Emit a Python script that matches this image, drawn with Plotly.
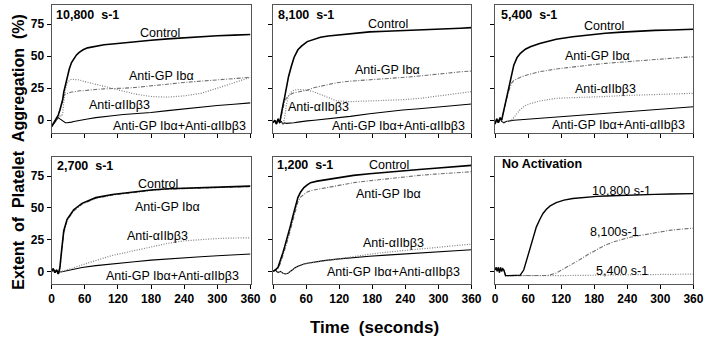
import plotly.graph_objects as go
from plotly.subplots import make_subplots

FONT = "Liberation Sans, Arial, sans-serif"
NB = "\u00a0"

# ---------------- data ----------------
# Panel 1: 10,800 s-1
t1 = [0, 3, 6, 9, 12, 15, 18, 20, 22, 25, 28, 32, 36, 40, 45, 50, 57, 65, 80, 95,
      110, 130, 150, 180, 210, 240, 270, 300, 330, 360]
ctrl1 = [-5, -3, -1, 1, 4, 8, 12, 16, 22, 28, 34, 40, 45, 48, 51, 53, 55, 56.5, 58, 59,
         59.5, 60.5, 61.5, 62.5, 63.5, 64.5, 65.2, 66, 66.5, 67]
gp1 = [-5, -3, -1, 1, 4, 8, 12, 16, 19, 20.5, 21, 21.5, 22, 22, 22.5, 23, 23, 23.5, 24, 24.5,
       24.5, 25, 25.5, 27, 28, 29.5, 30.5, 31.5, 32.5, 33.5]
ab1 = [-5, -3, -1, 1, 3, 4, 3, 5, 14, 24, 29, 31, 32, 32, 32, 31.5, 30.5, 29.5, 28, 26.5,
       25, 23, 20.5, 18.5, 18, 19, 21, 25, 29, 33.5]
both1 = [-5, -3, -1, 1, 2, 1, 0, -1, -1.5, -2, -2, -2, -1.5, -1, -0.5, 0, 0.5, 1, 2, 3,
         3.5, 4.5, 5, 6, 7.5, 9, 10, 11.5, 12.5, 13.5]

# Panel 2: 8,100 s-1
t2 = [0, 3, 6, 9, 12, 15, 18, 21, 24, 28, 33, 38, 45, 52, 62, 75, 86, 100, 116, 140,
      175, 205, 235, 265, 294, 324, 340, 360]
ctrl2 = [-2, 0, -3, 1, -2, 6, 12, 18, 26, 34, 42, 49, 55, 58, 61.4, 63.5, 64.8, 65.8, 66.6, 67.8,
         69, 69.5, 70, 70.2, 70.5, 71, 71.8, 72.3]
gp2 = [-2, 0, -3, 1, -2, 4, 10, 15, 17, 19, 20.5, 21.5, 22, 22.5, 23.5, 25.5, 26.5, 28, 29.3, 30.5,
       31.4, 32.3, 33.4, 34.5, 36, 37, 37.8, 38.4]
ab2 = [-2, 0, -3, 1, -2, -1, -3, 2, 12, 19, 22, 23.5, 24, 23.8, 23.5, 22, 20, 17.5, 15, 14.5,
       15, 15.5, 16, 17, 18.5, 20, 21, 22.3]
both2 = [-2, 0, -3, 1, -2, -1, -3, -2, -2.5, -2.5, -2, -2, -1.5, -1, -0.5, 0, 0.5, 1, 1.5, 3,
         5, 6.6, 8, 9, 10, 11.2, 12, 12.7]

# Panel 3: 5,400 s-1
t3 = [0, 3, 6, 9, 12, 16, 20, 25, 30, 34, 40, 46, 55, 64, 81, 111, 141, 170, 200, 230,
      260, 290, 319, 340, 360]
ctrl3 = [-3, 1, -2, 2, 0, 8, 15, 23.6, 34, 43, 49, 52.3, 55.5, 57.4, 60, 63.2, 65.2, 66.6, 67.9, 68.8,
         69.7, 70.2, 70.5, 70.8, 71]
gp3 = [-3, 1, -2, 2, 0, 8, 15, 23, 29, 31, 32.5, 33.5, 35, 36, 37.9, 40, 41.8, 43, 44.4, 45.5,
       46.5, 47.3, 48.2, 49, 49.6]
ab3 = [-3, 1, -2, 2, -1, -2, -1, -1, 0, 2, 5.4, 8.5, 11.5, 13, 15, 17.1, 17.6, 17.9, 18.5, 19.2,
       19.7, 20.2, 20.5, 20.8, 21]
both3 = [-3, 1, -2, 2, -1, -2, -1, -0.5, -0.3, 0, 0.2, 0.4, 0.8, 1, 1.4, 2.3, 3.2, 4.2, 5.4, 6.4,
         7.4, 8.3, 9.2, 9.9, 10.5]

# Panel 4: 2,700 s-1
t4 = [0, 3, 6, 9, 12, 15, 17, 19, 22, 28, 40, 55, 80, 110, 150, 180, 210, 240, 270, 300, 330, 360]
ctrl4 = [0, 2, -1, 1, -2, 3, 12, 20, 32, 41, 48.5, 53.5, 58, 60.5, 62.8, 64, 65, 65.5, 65.9, 66.3, 66.7, 67.1]
gp4 = [0, 2, -1, 1, -2, 2, 10, 18, 30, 40, 47.5, 52.8, 57.5, 60, 62.3, 63.6, 64.6, 65.1, 65.5, 65.9, 66.3, 66.7]
ab4 = [0, 2, -1, 1, -2, 0, -0.5, 0, 0.5, 1.2, 3, 5, 8.5, 12.5, 16.5, 19.5, 22, 24, 25.2, 25.8, 26.2, 26.4]
both4 = [0, 2, -1, 1, -2, 0, -0.5, -0.3, 0, 0.5, 1.5, 3, 4.5, 6, 7.5, 8.8, 9.8, 10.7, 11.5, 12.2, 12.9, 13.6]

# Panel 5: 1,200 s-1
t5 = [0, 4, 9, 13, 18, 22, 27, 31, 36, 40, 45, 50, 56, 62, 68, 80, 92, 120, 146, 175,
      205, 235, 265, 294, 324, 360]
ctrl5 = [0, 1, 3.1, 8, 14.9, 21, 28, 35, 43.6, 51, 58, 62.5, 65.9, 68, 69.8, 71, 71.8, 73.8, 75.5, 76.8,
         78.1, 79.2, 80.2, 81.2, 82.3, 83.4]
gp5 = [0, 1, 2.5, 6, 12, 18, 25.5, 32, 40, 48, 54.5, 58.5, 60.6, 62.5, 63.5, 64.5, 65.1, 67.5, 69.8, 71.3,
       72.9, 74.2, 75.5, 76.5, 77.6, 78.4]
ab5 = [0, 1, -1, 0, -1.5, -2, -1.5, 0, 1.5, 2.8, 4, 5, 5.6, 6.2, 6.6, 7.3, 8.2, 9.8, 11.5, 13.4,
       15, 16.3, 17.6, 18.8, 20, 21.4]
both5 = [0, 1, -1, 0, -1.5, -2.1, -1.5, 0, 1.5, 2.8, 4, 5, 5.8, 6.4, 6.9, 7.6, 8.4, 9.8, 10.9, 11.8,
         12.7, 13.6, 14.5, 15.4, 16.2, 17]

# Panel 6: No Activation
t6 = [0, 2, 4, 6, 8, 10, 12, 14, 16, 19, 25, 35, 45.7, 52, 57.6, 63, 69.5, 75, 81.4, 87,
      93.2, 100, 111, 125, 141, 155, 170, 185, 200, 215, 230, 245, 260, 290, 319, 340, 360]
na10800 = [1, 3, 0, 3, -1, 3, 0, 2, 1, -3.4, -3.4, -3.4, -3, 1, 9.6, 18, 28, 35, 41, 45.5,
           48.9, 51.5, 54.1, 56, 57.3, 58, 58.6, 59, 59.3, 59.6, 59.9, 60.1, 60.3, 60.6, 60.9, 61, 61.2]
na8100 = [1, 3, 0, 3, -1, 3, 0, 2, 1, -3.4, -3.4, -3.4, -3.4, -3.4, -3.4, -3.4, -3.4, -3.4, -3.4, -3.4,
          -3.3, -2.8, -1.3, 2, 5.7, 9.5, 13.6, 17.3, 20.6, 23.2, 25.3, 26.8, 28, 30.5, 32.4, 33.3, 34]
na5400 = [1, 3, 0, 3, -1, 3, 0, 2, 1, -3.4, -3.4, -3.5, -3.5, -3.5, -3.5, -3.5, -3.5, -3.5, -3.5, -3.5,
          -3.5, -3.5, -3.4, -3.4, -3.3, -3.3, -3.2, -3.1, -3, -2.9, -2.8, -2.8, -2.7, -2.6, -2.4, -2.3, -2.2]

panel_titles = ["10,800" + NB + NB + "s-1", "8,100" + NB + NB + "s-1", "5,400" + NB + NB + "s-1",
                "2,700" + NB + NB + "s-1", "1,200" + NB + NB + "s-1", "No Activation"]
series_names = ["Control", "Anti-GP Ibα", "Anti-αIIbβ3", "Anti-GP Ibα+Anti-αIIbβ3"]
na_names = ["10,800 s-1", "8,100s-1", "5,400 s-1"]

x_ticks = [0, 60, 120, 180, 240, 300, 360]
y_ticks = [0, 25, 50, 75]

# ---------------- styles ----------------
STY = {
    "ctrl": dict(color="black", width=1.6, dash="solid"),
    "gp": dict(color="#707070", width=1.1, dash="4px,1.5px,1px,1.5px"),
    "ab": dict(color="#808080", width=1.2, dash="1px,1.5px"),
    "both": dict(color="black", width=1.1, dash="solid"),
    "na1": dict(color="black", width=1.4, dash="solid"),
}

fig = make_subplots(rows=2, cols=3)

panel_series = [
    (t1, [ctrl1, gp1, ab1, both1]),
    (t2, [ctrl2, gp2, ab2, both2]),
    (t3, [ctrl3, gp3, ab3, both3]),
    (t4, [ctrl4, gp4, ab4, both4]),
    (t5, [ctrl5, gp5, ab5, both5]),
]
order = ["both", "ab", "gp", "ctrl"]
for i, (t, ys) in enumerate(panel_series):
    r, c = i // 3 + 1, i % 3 + 1
    keyed = dict(zip(["ctrl", "gp", "ab", "both"], ys))
    for k in order:
        fig.add_trace(go.Scatter(x=t, y=keyed[k], mode="lines", line=STY[k],
                                 showlegend=False, hoverinfo="skip"), row=r, col=c)
for k, y in [("ab", na5400), ("gp", na8100), ("na1", na10800)]:
    fig.add_trace(go.Scatter(x=t6, y=y, mode="lines", line=STY[k],
                             showlegend=False, hoverinfo="skip"), row=2, col=3)

# ---------------- layout ----------------
xdom = [[49.5 / 728, 252 / 728], [275 / 728, 477 / 728], [501 / 728, 703 / 728]]
ydom = [[1 - 133 / 340, 1 - 5 / 340], [1 - 284 / 340, 1 - 157 / 340]]
tickfont = dict(family=FONT, size=12, color="black", weight="bold")
for i in range(6):
    r, c = i // 3, i % 3
    sfx = "" if i == 0 else str(i + 1)
    fig.layout["xaxis" + sfx].update(
        domain=xdom[c], range=[0, 360], tickvals=x_ticks, ticks="outside", ticklen=4,
        tickcolor="black", showline=True, linecolor="#555555", linewidth=1, mirror=True,
        showgrid=False, zeroline=False, showticklabels=(r == 1), tickfont=tickfont)
    fig.layout["yaxis" + sfx].update(
        domain=ydom[r], range=[-10, 90], tickvals=y_ticks, ticks="outside", ticklen=4,
        tickcolor="black", showline=True, linecolor="#555555", linewidth=1, mirror=True,
        showgrid=False, zeroline=False, showticklabels=(c == 0), tickfont=tickfont)

lab_font = dict(family=FONT, size=12.5, color="black")
ttl_font = dict(family=FONT, size=12.5, color="black", weight="bold")

# label positions in data coords for each panel: (x, y) for the 4 series labels
label_pos = [
    [(196, 68), (198, 34.5), (122, 12), (232, -4.5)],
    [(208, 75), (208, 39), (83, 10.5), (228, -4.5)],
    [(197, 73.5), (185, 50), (200, 24.4), (224, -3.8)],
    [(193, 68.5), (209, 50.7), (191, 28), (218, -3.7)],
    [(210, 83.4), (210, 60.6), (219, 22.2), (219, -0.5)],
]
title_pos = [(5, 82), (5, 82), (7, 82), (7, 83), (4, 83.4), (9, 84.2)]
na_pos = [(230, 63.2), (217, 30.8), (230, 0.2)]

anns = []
for i in range(6):
    sfx = "" if i == 0 else str(i + 1)
    xr, yr = "x" + sfx, "y" + sfx
    tx, ty = title_pos[i]
    anns.append(dict(text=panel_titles[i], x=tx, y=ty, xref=xr, yref=yr, xanchor="left",
                     yanchor="middle", showarrow=False, font=ttl_font))
    if i < 5:
        for name, (lx, ly) in zip(series_names, label_pos[i]):
            anns.append(dict(text=name, x=lx, y=ly, xref=xr, yref=yr, xanchor="center",
                             yanchor="middle", showarrow=False, font=lab_font))
    else:
        for name, (lx, ly) in zip(na_names, na_pos):
            anns.append(dict(text=name, x=lx, y=ly, xref=xr, yref=yr, xanchor="center",
                             yanchor="middle", showarrow=False, font=lab_font))

anns.append(dict(text="Time" + NB + NB + "(seconds)", x=378 / 728, y=1 - 327 / 340, xref="paper",
                 yref="paper", xanchor="center", yanchor="middle", showarrow=False,
                 font=dict(family=FONT, size=17, color="black", weight="bold")))
anns.append(dict(text="Extent" + NB + NB + "of" + NB + NB + "Platelet" + NB + NB + "Aggregation" + NB + NB + "(%)",
                 x=15 / 728, y=1 - 152 / 340, xref="paper", yref="paper", xanchor="center",
                 yanchor="middle", textangle=-90, showarrow=False,
                 font=dict(family=FONT, size=16, color="black", weight="bold")))

fig.update_layout(width=728, height=340, margin=dict(l=0, r=0, t=0, b=0),
                  paper_bgcolor="white", plot_bgcolor="white", annotations=anns,
                  showlegend=False)

fig.write_html("out.html")
